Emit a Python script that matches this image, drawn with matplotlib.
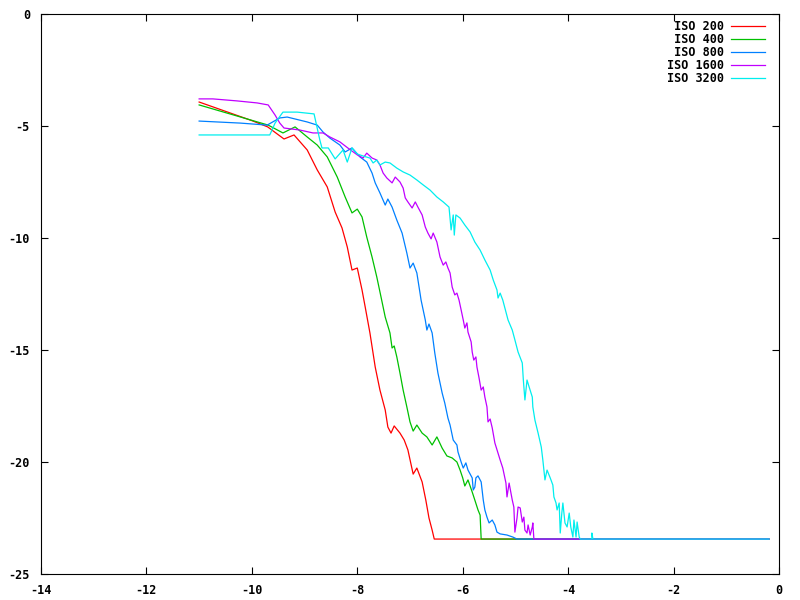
import matplotlib
matplotlib.use("Agg")
import matplotlib.pyplot as plt

# noise floor shared by every curve once it bottoms out
FLOOR = -23.44
X_END = -0.19

labels = ["ISO 200", "ISO 400", "ISO 800", "ISO 1600", "ISO 3200"]
colors = ["#ff0000", "#00c000", "#0080ff", "#c000ff", "#00eeee"]

iso200_x = [-11.0, -10.0, -9.70, -9.39, -9.20, -8.95, -8.76, -8.57, -8.42, -8.29, -8.19, -8.10,
            -8.00, -7.91, -7.85, -7.76, -7.66, -7.57, -7.47, -7.42, -7.36, -7.30, -7.19, -7.11,
            -7.04, -6.94, -6.87, -6.77, -6.70, -6.64, -6.58, -6.54, X_END]
iso200_y = [-3.93, -4.76, -5.04, -5.58, -5.40, -6.07, -6.96, -7.72, -8.84, -9.55, -10.40, -11.43,
            -11.34, -12.32, -13.08, -14.24, -15.76, -16.79, -17.68, -18.44, -18.71, -18.39, -18.71, -19.02,
            -19.46, -20.54, -20.27, -20.89, -21.70, -22.50, -23.04, FLOOR, FLOOR]

iso400_x = [-11.0, -9.69, -9.41, -9.18, -8.95, -8.76, -8.57, -8.38, -8.23, -8.10, -8.00, -7.91,
            -7.82, -7.72, -7.63, -7.55, -7.47, -7.38, -7.34, -7.30, -7.25, -7.19, -7.13, -7.06,
            -7.00, -6.94, -6.87, -6.77, -6.68, -6.58, -6.49, -6.39, -6.30, -6.20, -6.11, -6.05,
            -6.00, -5.96, -5.90, -5.82, -5.77, -5.71, -5.67, -5.65, X_END]
iso400_y = [-4.06, -4.96, -5.31, -5.04, -5.49, -5.85, -6.38, -7.28, -8.17, -8.88, -8.71, -9.06,
            -9.96, -10.85, -11.74, -12.63, -13.53, -14.24, -14.91, -14.82, -15.31, -16.03, -16.79, -17.54,
            -18.21, -18.62, -18.35, -18.71, -18.88, -19.24, -18.88, -19.38, -19.73, -19.82, -20.00, -20.36,
            -20.71, -21.07, -20.80, -21.34, -21.70, -22.14, -22.37, FLOOR, FLOOR]

iso800_x = [-11.0, -10.22, -9.71, -9.47, -9.33, -8.95, -8.76, -8.65, -8.52, -8.33, -8.23, -8.10,
            -7.95, -7.82, -7.72, -7.66, -7.57, -7.47, -7.42, -7.34, -7.25, -7.15, -7.06, -7.00,
            -6.94, -6.87, -6.81, -6.79, -6.71, -6.68, -6.64, -6.58, -6.53, -6.47, -6.39, -6.34,
            -6.28, -6.24, -6.18, -6.11, -6.09, -6.03, -5.99, -5.94, -5.90, -5.82, -5.80, -5.77,
            -5.75, -5.71, -5.65, -5.61, -5.58, -5.54, -5.50, -5.44, -5.39, -5.35, -5.29, -5.16,
            -5.05, -4.97, X_END]
iso800_y = [-4.78, -4.87, -4.96, -4.64, -4.60, -4.82, -4.96, -5.27, -5.54, -5.85, -6.16, -5.98,
            -6.38, -6.61, -7.10, -7.54, -7.99, -8.53, -8.26, -8.62, -9.20, -9.78, -10.67, -11.34,
            -11.12, -11.56, -12.46, -12.77, -13.66, -14.11, -13.84, -14.24, -15.13, -16.03, -16.92, -17.37,
            -18.04, -18.35, -19.02, -19.24, -19.55, -20.00, -20.27, -20.04, -20.36, -20.71, -21.25, -21.12,
            -20.71, -20.62, -20.89, -21.70, -22.14, -22.46, -22.72, -22.59, -22.81, -23.13, -23.21, -23.26,
            -23.35, FLOOR, FLOOR]

iso1600_x = [-11.0, -10.74, -10.28, -9.90, -9.69, -9.56, -9.47, -9.39, -9.09, -8.84, -8.65, -8.52,
             -8.33, -8.18, -8.00, -7.89, -7.82, -7.72, -7.63, -7.57, -7.51, -7.44, -7.34, -7.28,
             -7.19, -7.13, -7.09, -7.04, -6.96, -6.90, -6.85, -6.77, -6.71, -6.66, -6.60, -6.56,
             -6.49, -6.43, -6.37, -6.32, -6.28, -6.24, -6.20, -6.15, -6.11, -6.07, -6.03, -5.99,
             -5.96, -5.92, -5.90, -5.84, -5.82, -5.79, -5.75, -5.73, -5.69, -5.65, -5.61, -5.58,
             -5.54, -5.52, -5.48, -5.44, -5.39, -5.29, -5.24, -5.18, -5.16, -5.12, -5.06, -5.03,
             -5.01, -4.97, -4.95, -4.91, -4.87, -4.84, -4.82, -4.78, -4.76, -4.72, -4.68, -4.67,
             -4.65, X_END]
iso1600_y = [-3.79, -3.79, -3.88, -3.97, -4.06, -4.51, -4.87, -5.09, -5.18, -5.31, -5.31, -5.49,
             -5.71, -5.98, -6.29, -6.43, -6.21, -6.43, -6.52, -6.74, -7.10, -7.32, -7.54, -7.28,
             -7.50, -7.77, -8.21, -8.39, -8.66, -8.39, -8.62, -8.97, -9.51, -9.78, -10.04, -9.78,
             -10.18, -10.85, -11.21, -11.07, -11.34, -11.56, -12.19, -12.54, -12.46, -12.77, -13.21, -13.66,
             -14.02, -13.79, -14.20, -14.64, -15.09, -15.45, -15.31, -15.76, -16.25, -16.79, -16.65, -17.10,
             -17.54, -18.21, -18.08, -18.48, -19.15, -19.91, -20.27, -20.94, -21.56, -20.94, -21.70, -22.01,
             -23.13, -22.50, -22.01, -22.05, -22.68, -22.46, -23.04, -23.17, -22.81, -23.26, -22.90, -22.72,
             FLOOR, FLOOR]

iso3200_x = [-11.0, -9.66, -9.56, -9.41, -9.14, -8.82, -8.71, -8.67, -8.55, -8.42, -8.27, -8.19,
             -8.10, -8.00, -7.89, -7.76, -7.70, -7.63, -7.57, -7.47, -7.38, -7.25, -7.13, -7.00,
             -6.87, -6.75, -6.62, -6.49, -6.37, -6.26, -6.22, -6.18, -6.16, -6.13, -6.05, -5.96,
             -5.86, -5.77, -5.67, -5.58, -5.48, -5.42, -5.35, -5.33, -5.29, -5.24, -5.14, -5.06,
             -5.01, -4.95, -4.87, -4.85, -4.82, -4.78, -4.74, -4.68, -4.67, -4.63, -4.57, -4.51,
             -4.48, -4.44, -4.40, -4.34, -4.29, -4.27, -4.23, -4.21, -4.17, -4.15, -4.12, -4.10,
             -4.06, -4.02, -3.98, -3.95, -3.91, -3.89, -3.85, -3.83, -3.79, -3.77, -3.55, -3.55,
             -3.53, X_END]
iso3200_y = [-5.40, -5.40, -4.87, -4.38, -4.38, -4.46, -5.63, -5.98, -5.98, -6.47, -6.07, -6.61,
             -5.98, -6.25, -6.34, -6.43, -6.65, -6.52, -6.74, -6.61, -6.65, -6.88, -7.05, -7.19,
             -7.41, -7.63, -7.86, -8.17, -8.39, -8.62, -9.64, -8.97, -9.87, -8.97, -9.11, -9.42,
             -9.73, -10.18, -10.54, -10.98, -11.43, -11.88, -12.32, -12.68, -12.46, -12.77, -13.66, -14.11,
             -14.55, -15.09, -15.58, -16.34, -17.23, -16.34, -16.65, -17.10, -17.54, -18.13, -18.71, -19.33,
             -19.91, -20.80, -20.36, -20.71, -21.03, -21.56, -21.83, -22.14, -21.83, -23.17, -22.28, -21.83,
             -22.72, -22.90, -22.28, -22.90, -23.35, -22.59, -23.35, -22.68, -23.35, FLOOR, FLOOR, -23.17,
             FLOOR, FLOOR]

series = [(iso200_x, iso200_y), (iso400_x, iso400_y), (iso800_x, iso800_y),
          (iso1600_x, iso1600_y), (iso3200_x, iso3200_y)]

fig = plt.figure(figsize=(8, 6), dpi=100)
ax = fig.add_axes([41 / 800, 1 - 574 / 600, 738 / 800, 560 / 600])

# pad labels so the monospace text lines up on the right like gnuplot's key
width = max(len(s) for s in labels)
for (xs, ys), lab, col in zip(series, labels, colors):
    ax.plot(xs, ys, color=col, lw=0.9, label=lab.rjust(width))

ax.set_xlim(-14, 0)
ax.set_ylim(-25, 0)
ax.set_xticks(range(-14, 1, 2))
ax.set_yticks(range(-25, 1, 5))

tick_font = {"family": "DejaVu Sans Mono", "weight": "bold", "size": 8.5}
ax.set_xticklabels([str(v) for v in range(-14, 1, 2)], fontdict=tick_font)
ax.set_yticklabels([str(v) for v in range(-25, 1, 5)], fontdict=tick_font)
ax.tick_params(axis="x", direction="in", length=5, width=0.8, top=True, pad=7)
ax.tick_params(axis="y", direction="in", length=5, width=0.8, right=True, pad=8)
for sp in ax.spines.values():
    sp.set_linewidth(0.8)

leg = ax.legend(loc="upper right", frameon=False, markerfirst=False, handlelength=2.9,
                labelspacing=0.01, borderpad=0, borderaxespad=0, handletextpad=0.55,
                bbox_to_anchor=(765 / 800, 1 - 20 / 600), bbox_transform=fig.transFigure,
                prop={"family": "DejaVu Sans Mono", "weight": "bold", "size": 8.5})

fig.savefig("out.png", dpi=100)
